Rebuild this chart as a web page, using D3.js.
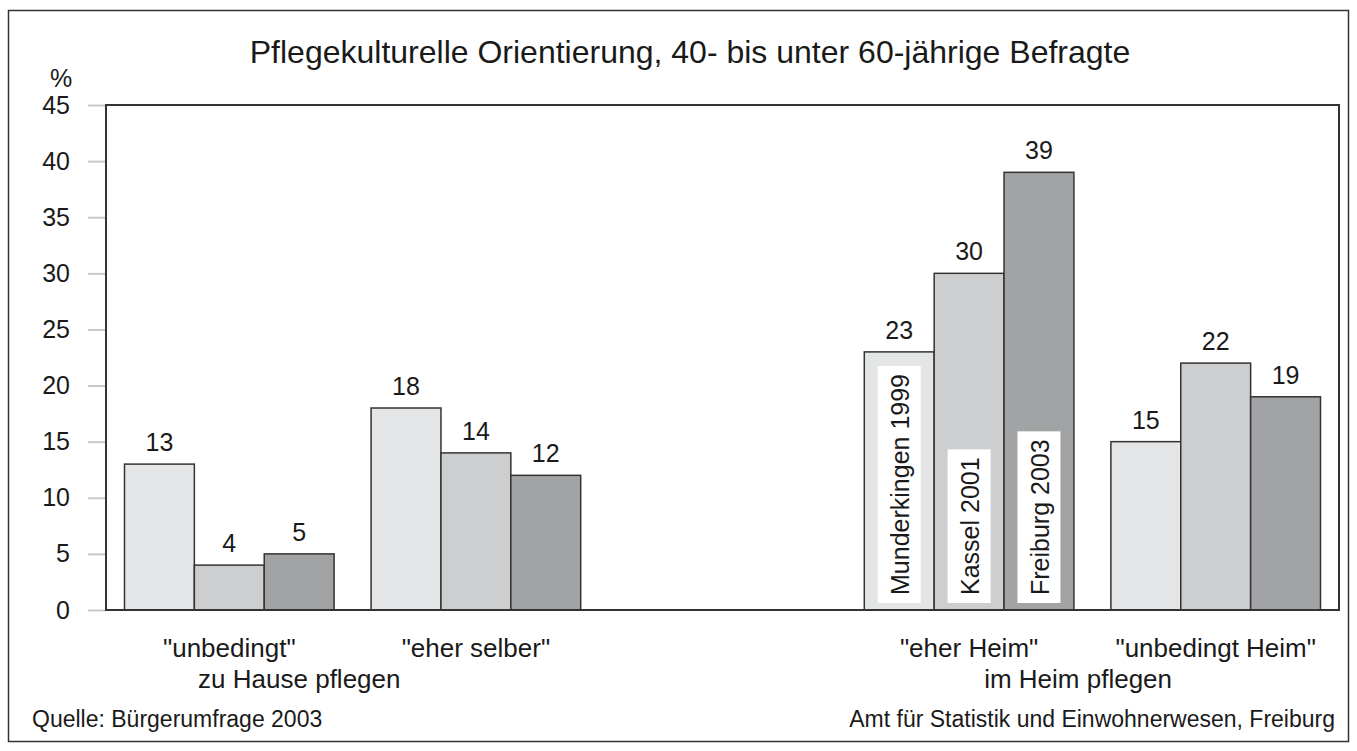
<!DOCTYPE html>
<head>
    <meta charset="utf-8">
    <style>
        body { margin: 0; background: #fff; }
        svg text { font-family: "Liberation Sans", Arial, sans-serif; fill: #1a1a1a; }
    </style>
</head>
<body>
    <div id="chart"></div>
    <script src="https://d3js.org/d3.v7.min.js"></script>
    <script>
        // values, in percent
        var categories = ['"unbedingt"', '"eher selber"', '"eher Heim"', '"unbedingt Heim"'];
        var seriesNames = ["Munderkingen 1999", "Kassel 2001", "Freiburg 2003"];
        var munderkingen = [13, 18, 23, 15];
        var kassel = [4, 14, 30, 22];
        var freiburg = [5, 12, 39, 19];
        var yTicks = [0, 5, 10, 15, 20, 25, 30, 35, 40, 45];
        var groupLabels = ["zu Hause pflegen", "im Heim pflegen"];

        var title = "Pflegekulturelle Orientierung, 40- bis unter 60-jährige Befragte";
        var colors = ["#e4e5e7", "#cdced0", "#a2a3a5"];
        var values = [munderkingen, kassel, freiburg];

        var W = 1357, H = 751;
        var margin = {top: 105, right: 18, bottom: 141, left: 106};
        var width = W - margin.left - margin.right,
            height = H - margin.top - margin.bottom;

        var svg = d3.select("#chart").append("svg")
            .attr("width", W)
            .attr("height", H);

        // outer frame
        svg.append("rect")
            .attr("x", 8.5).attr("y", 10.5)
            .attr("width", W - 17).attr("height", H - 20)
            .attr("fill", "none").attr("stroke", "#333").attr("stroke-width", 1.5);

        svg.append("text")
            .attr("x", 690).attr("y", 63)
            .attr("text-anchor", "middle")
            .attr("font-size", 32)
            .text(title);

        var g = svg.append("g").attr("transform", "translate(" + margin.left + "," + margin.top + ")");

        // an empty slot between the two halves
        var slots = [categories[0], categories[1], "", categories[2], categories[3]];
        var x = d3.scaleBand()
            .domain(slots)
            .range([0, width])
            .paddingInner(0.15)
            .paddingOuter(0.075);

        var xs = d3.scaleBand()
            .domain(seriesNames)
            .range([0, x.bandwidth()]);

        var y = d3.scaleLinear()
            .domain([0, 45])
            .range([height, 0]);

        // y axis: light ticks left of the frame
        var yAxis = g.append("g")
            .attr("class", "y axis")
            .call(d3.axisLeft(y).tickValues(yTicks).tickSize(18).tickPadding(18));
        yAxis.select(".domain").remove();
        yAxis.selectAll(".tick line").attr("stroke", "#c8c8c8").attr("stroke-width", 2);
        yAxis.selectAll(".tick text")
            .attr("font-size", 25)
            .attr("font-family", "Liberation Sans, Arial, sans-serif")
            .attr("fill", "#1a1a1a");

        svg.append("text")
            .attr("x", 61).attr("y", 87)
            .attr("text-anchor", "middle")
            .attr("font-size", 25)
            .text("%");

        // bars
        var data = [];
        categories.forEach(function(c, i) {
            seriesNames.forEach(function(s, j) {
                data.push({cat: c, series: s, idx: j, value: values[j][i]});
            });
        });

        g.selectAll(".bar")
            .data(data)
            .enter().append("rect")
            .attr("class", "bar")
            .attr("x", function(d) { return x(d.cat) + xs(d.series); })
            .attr("y", function(d) { return y(d.value); })
            .attr("width", xs.bandwidth())
            .attr("height", function(d) { return height - y(d.value); })
            .attr("fill", function(d) { return colors[d.idx]; })
            .attr("stroke", "#333")
            .attr("stroke-width", 1.5);

        g.selectAll(".val")
            .data(data)
            .enter().append("text")
            .attr("class", "val")
            .attr("x", function(d) { return x(d.cat) + xs(d.series) + xs.bandwidth() / 2; })
            .attr("y", function(d) { return y(d.value) - 13; })
            .attr("text-anchor", "middle")
            .attr("font-size", 25)
            .text(function(d) { return d.value; });

        // legend written into the "eher Heim" bars
        var legendCat = categories[2];
        seriesNames.forEach(function(s, j) {
            var cx = x(legendCat) + xs(s) + xs.bandwidth() / 2;
            var lg = g.append("g");
            var box = lg.append("rect").attr("fill", "#fff");
            var t = lg.append("text")
                .attr("transform", "translate(" + (cx + 1) + "," + (height - 15) + ") rotate(-90)")
                .attr("dy", "0.35em")
                .attr("font-size", 25)
                .text(s);
            var len = t.node().getComputedTextLength();
            box.attr("x", cx - 21.5)
                .attr("y", height - 7 - len - 16)
                .attr("width", 43)
                .attr("height", len + 16);
        });

        // frame of the plot area
        g.append("rect")
            .attr("x", 0).attr("y", 0)
            .attr("width", width).attr("height", height)
            .attr("fill", "none").attr("stroke", "#333").attr("stroke-width", 2);

        // category labels
        g.selectAll(".cat")
            .data(categories)
            .enter().append("text")
            .attr("class", "cat")
            .attr("x", function(d) { return x(d) + x.bandwidth() / 2; })
            .attr("y", height + 47)
            .attr("text-anchor", "middle")
            .attr("font-size", 26)
            .text(function(d) { return d; });

        g.selectAll(".grp")
            .data(groupLabels)
            .enter().append("text")
            .attr("class", "grp")
            .attr("x", function(d, i) {
                var c = x(categories[i * 2]) + x.bandwidth() / 2;
                return c + (i === 0 ? 70 : 109);
            })
            .attr("y", height + 78)
            .attr("text-anchor", "middle")
            .attr("font-size", 26)
            .text(function(d) { return d; });

        svg.append("text")
            .attr("x", 32).attr("y", 727)
            .attr("font-size", 23)
            .text("Quelle: Bürgerumfrage 2003");

        svg.append("text")
            .attr("x", 1335).attr("y", 727)
            .attr("text-anchor", "end")
            .attr("font-size", 23)
            .text("Amt für Statistik und Einwohnerwesen, Freiburg");
    </script>
</body>
